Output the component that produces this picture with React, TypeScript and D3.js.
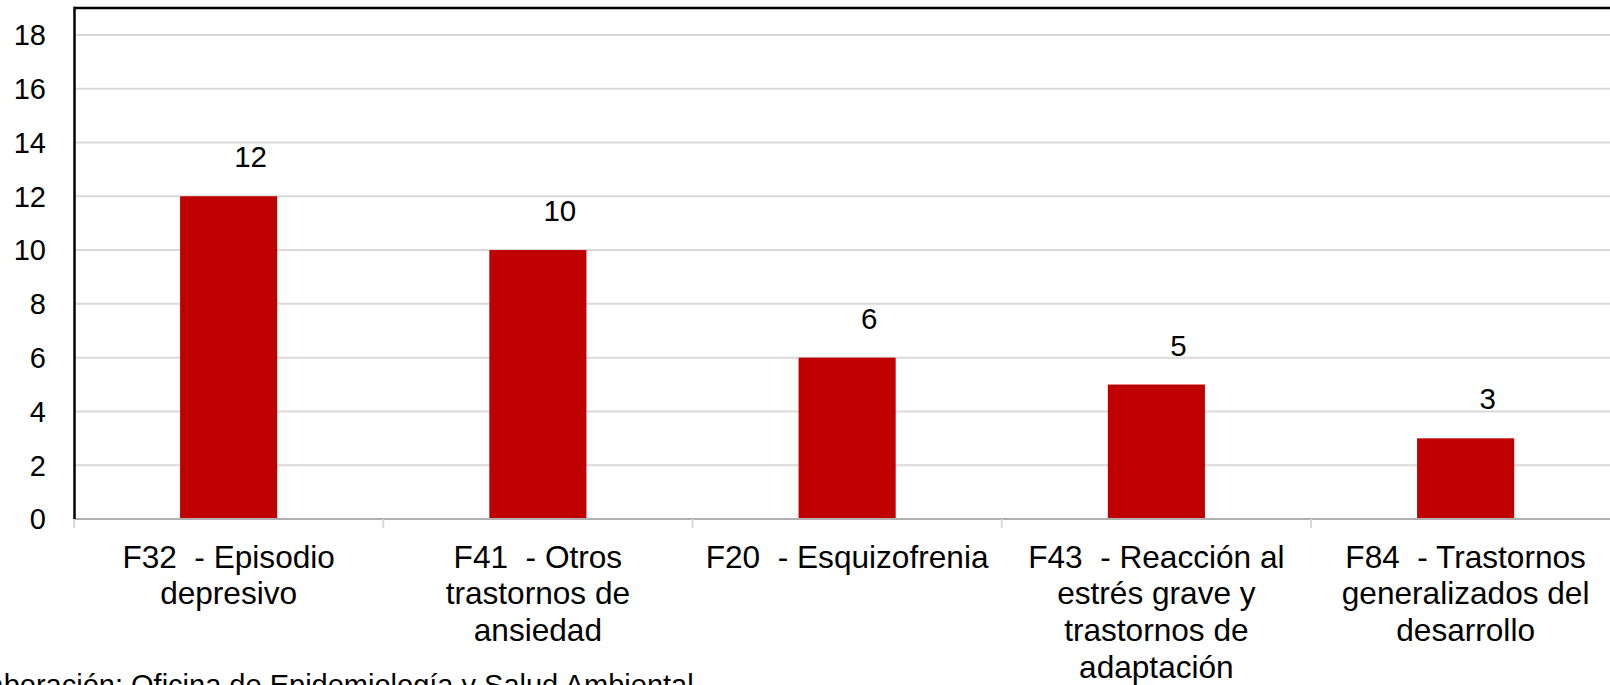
import React from "react";
import * as d3 from "d3";

const categories: string[] = [
  "F32  - Episodio depresivo",
  "F41  - Otros trastornos de ansiedad",
  "F20  - Esquizofrenia",
  "F43  - Reacción al estrés grave y trastornos de adaptación",
  "F84  - Trastornos generalizados del desarrollo",
];
const categoryLines: string[][] = [
  ["F32  - Episodio", "depresivo"],
  ["F41  - Otros", "trastornos de", "ansiedad"],
  ["F20  - Esquizofrenia"],
  ["F43  - Reacción al", "estrés grave y", "trastornos de", "adaptación"],
  ["F84  - Trastornos", "generalizados del", "desarrollo"],
];
const values: number[] = [12, 10, 6, 5, 3];
const yTicks: number[] = [0, 2, 4, 6, 8, 10, 12, 14, 16, 18];
const footnote = "Elaboración: Oficina de Epidemiología y Salud Ambiental";

const W = 1610;
const H = 685;
const FONT = "'Liberation Sans', Arial, Helvetica, sans-serif";

export default function App() {
  const left = 74;
  const top = 8;
  const bottom = 519;
  const step = 309.25;
  const right = left + step * categories.length;

  const x = d3
    .scaleBand<string>()
    .domain(categories)
    .range([left, right])
    .paddingInner(0.686)
    .paddingOuter(0.343);
  const y = d3.scaleLinear().domain([0, 19]).range([bottom, top]);

  const boundaries = d3.range(categories.length + 1).map((i) => left + i * step);

  return (
    <div style={{ width: W, height: H, overflow: "hidden", position: "absolute", left: 0, top: 0 }}>
      <style>{`body{margin:0}`}</style>
      <svg width={W} height={H} style={{ display: "block", background: "#fff" }} fontFamily={FONT}>
        {/* gridlines */}
        {yTicks
          .filter((t) => t > 0)
          .map((t) => (
            <line key={"g" + t} x1={left} x2={W} y1={y(t)} y2={y(t)} stroke="#d9d9d9" strokeWidth={2} />
          ))}
        {/* bars */}
        {categories.map((c, i) => (
          <rect
            key={"b" + i}
            x={x(c)}
            y={y(values[i])}
            width={x.bandwidth()}
            height={y(0) - y(values[i])}
            fill="#c00000"
          />
        ))}
        {/* value labels */}
        {categories.map((c, i) => (
          <text
            key={"v" + i}
            x={(x(c) as number) + x.bandwidth() / 2 + 22}
            y={y(values[i]) - 29}
            textAnchor="middle"
            fontSize={29.5}
            fill="#000"
          >
            {values[i]}
          </text>
        ))}
        {/* x axis line and ticks */}
        <line x1={left} x2={W} y1={y(0)} y2={y(0)} stroke="#b0b0b0" strokeWidth={2} />
        {boundaries.map((bx, i) => (
          <line key={"t" + i} x1={bx} x2={bx} y1={y(0)} y2={y(0) + 9} stroke="#d9d9d9" strokeWidth={2} />
        ))}
        {/* plot border top/left */}
        <line x1={left} x2={W} y1={top} y2={top} stroke="#000" strokeWidth={2.5} />
        <line x1={left + 0.5} x2={left + 0.5} y1={top - 1.25} y2={y(0)} stroke="#000" strokeWidth={2.5} />
        {/* y tick labels */}
        {yTicks.map((t) => (
          <text key={"yl" + t} x={46} y={y(t) + 10.4} textAnchor="end" fontSize={29} fill="#000">
            {t}
          </text>
        ))}
        {/* category labels */}
        {categories.map((c, i) => (
          <text
            key={"c" + i}
            x={(x(c) as number) + x.bandwidth() / 2}
            y={567.5}
            textAnchor="middle"
            fontSize={31.6}
            fill="#000"
            style={{ whiteSpace: "pre" }}
          >
            {categoryLines[i].map((ln, j) => (
              <tspan
                key={j}
                x={(x(c) as number) + x.bandwidth() / 2}
                dy={j === 0 ? 0 : 36.7}
                style={{ whiteSpace: "pre" }}
              >
                {ln}
              </tspan>
            ))}
          </text>
        ))}
        {/* footnote (cut off at the picture's edges, as in the source) */}
        <text x={131 - 5.836 * 29} y={695} fontSize={29} fill="#000" style={{ whiteSpace: "pre" }}>
          {footnote}
        </text>
      </svg>
    </div>
  );
}
